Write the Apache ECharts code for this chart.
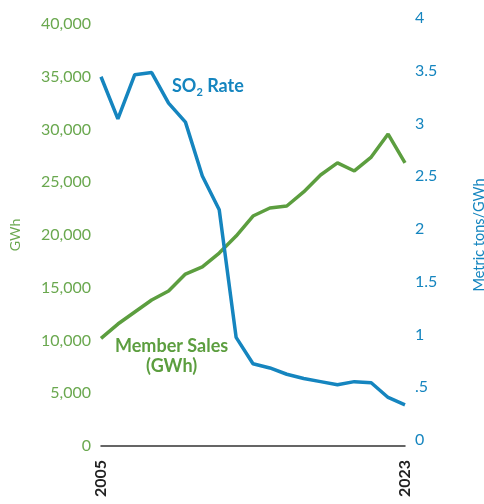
<!DOCTYPE html>
<html>
<head>
<meta charset="utf-8">
<script src="https://cdn.jsdelivr.net/npm/echarts@6/dist/echarts.min.js"></script>
<style>html,body{margin:0;padding:0;background:#fff}#c{width:484px;height:504px}</style>
</head>
<body>
<div id="c"></div>
<script>
const years = ['2005','2006','2007','2008','2009','2010','2011','2012','2013','2014','2015','2016','2017','2018','2019','2020','2021','2022','2023'];
const memberSales = [10200,11560,12700,13840,14690,16300,16970,18290,19900,21800,22560,22750,24080,25690,26830,26070,27390,29570,26830];
const so2Rate = [3.50,3.10,3.52,3.54,3.25,3.07,2.56,2.24,1.03,0.78,0.74,0.68,0.64,0.61,0.58,0.61,0.60,0.46,0.39];
const green = '#5c9e3f';
const greenLabel = '#6aa84f';
const blue = '#1585bf';
const chart = echarts.init(document.getElementById('c'));
chart.setOption({
  animation: false,
  grid: {left: 101, right: 79, top: 24, bottom: 58, containLabel: false, outerBoundsMode: 'none'},
  xAxis: {
    type: 'category', data: years, boundaryGap: false,
    axisLine: {lineStyle: {color: '#333', width: 1.5}},
    axisTick: {show: false},
    axisLabel: {
      rotate: 90, color: '#222', fontFamily: 'Lato', fontWeight: 'bold', fontSize: 16, margin: 14,
      interval: 0,
      formatter: (v, i) => (i === 0 || i === years.length - 1) ? v : ''
    }
  },
  yAxis: [{
    type: 'value', min: 0, max: 40000, interval: 5000,
    name: 'GWh', nameLocation: 'middle', nameGap: 79, nameRotate: 90,
    nameTextStyle: {color: greenLabel, fontFamily: 'Lato', fontSize: 14},
    axisLine: {show: false}, axisTick: {show: false}, splitLine: {show: false},
    axisLabel: {color: greenLabel, fontFamily: 'Lato', fontSize: 16, margin: 10,
      formatter: v => v.toLocaleString('en-US')}
  }, {
    type: 'value', min: 0, max: 4, interval: 0.5, position: 'right',
    name: 'Metric tons/GWh', nameLocation: 'middle', nameGap: 67, nameRotate: 90,
    nameTextStyle: {color: blue, fontFamily: 'Lato', fontSize: 14.5},
    axisLine: {show: false}, axisTick: {show: false}, splitLine: {show: false},
    axisLabel: {color: blue, fontFamily: 'Lato', fontSize: 16, margin: 10,
      verticalAlign: 'bottom', lineHeight: 12,
      formatter: v => v === 0.5 ? '.5' : String(v)}
  }],
  series: [{
    type: 'line', data: memberSales, yAxisIndex: 0, symbol: 'none',
    lineStyle: {color: green, width: 3.5}, z: 2
  }, {
    type: 'line', data: so2Rate, yAxisIndex: 1, symbol: 'none',
    lineStyle: {color: blue, width: 3.5}, z: 3
  }],
  graphic: [{
    type: 'text', left: 172, top: 77,
    style: {
      text: '{a|SO}{s|2}{a| Rate}',
      rich: {
        a: {fontFamily: 'Lato', fontWeight: 'bold', fontSize: 18, fill: blue, verticalAlign: 'bottom'},
        s: {fontFamily: 'Lato', fontWeight: 'bold', fontSize: 11, fill: blue, verticalAlign: 'bottom', padding: [0,0,-3,0]}
      }
    }
  }, {
    type: 'text', left: 115, top: 336,
    style: {
      text: 'Member Sales\n(GWh)', align: 'center', textAlign: 'center',
      fontFamily: 'Lato', fontWeight: 'bold', fontSize: 18, lineHeight: 20, fill: green
    }
  }]
});
</script>
</body>
</html>
